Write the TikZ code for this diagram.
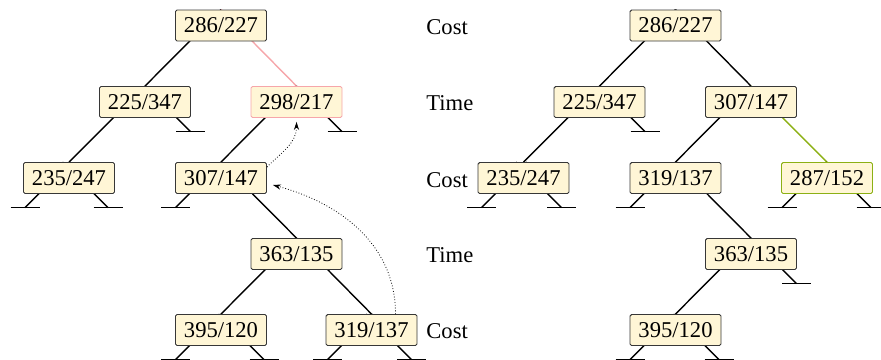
\documentclass[tikz,border=0pt]{standalone}
\usepackage{fontspec}
\setmainfont{Liberation Serif}
\usetikzlibrary{backgrounds,arrows.meta}
\definecolor{boxfill}{RGB}{255,246,214}
\definecolor{boxline}{RGB}{55,55,55}
\definecolor{pinkc}{RGB}{246,166,170}
\definecolor{greenc}{RGB}{140,176,20}
\tikzset{
  keybox/.style={draw=boxline, fill=boxfill, rounded corners=0.8pt, line width=0.45pt,
    minimum width=45.5pt, minimum height=15.5pt, inner sep=0pt,
    font=\fontsize{11.3}{13}\selectfont},
  lvl/.style={anchor=west, inner sep=0pt, font=\fontsize{11.3}{13}\selectfont},
  tedge/.style={line width=0.7pt, black},
  leafbar/.style={line width=0.5pt, black},
  hint/.style={densely dotted, line width=0.4pt, -{Stealth[length=4pt,width=2.6pt]}}
}
% #1 node, #2 horizontal offset of the leaf, #3 side (-1 or 1)
\newcommand\myleaf[3]{%
  \draw[tedge] (#1.north) ++({#2-#3*45.5},0) -- ++({#3*45.5},45.5) coordinate (#1-leaf#3);
  \draw[leafbar] (#1-leaf#3) ++(-14.5,0) -- ++(29,0);
}
\begin{document}
\begin{tikzpicture}[x=0.5pt,y=-0.5pt]
\useasboundingbox (0,0) rectangle (881,359);
% left tree
\node[keybox] (La) at (221,25.5) {286/227};
\node[keybox] (Lb) at (145,102) {225/347};
\node[keybox, draw=pinkc] (Lc) at (296.5,102) {298/217};
\node[keybox] (Ld) at (69,178) {235/247};
\node[keybox] (Le) at (221,178) {307/147};
\node[keybox] (Lf) at (296.5,254) {363/135};
\node[keybox] (Lg) at (221,330) {395/120};
\node[keybox] (Lh) at (371.5,330) {319/137};
% right tree
\node[keybox] (Ra) at (675.5,25.5) {286/227};
\node[keybox] (Rb) at (599.5,102) {225/347};
\node[keybox] (Rc) at (751,102) {307/147};
\node[keybox] (Rd) at (523.5,178) {235/247};
\node[keybox] (Re) at (675.5,178) {319/137};
\node[keybox, draw=greenc] (Rf) at (827,178) {287/152};
\node[keybox] (Rg) at (751,254) {363/135};
\node[keybox] (Rh) at (675.5,330) {395/120};
% level labels
\node[lvl] (t1) at (426,27) {Cost};
\node[lvl] (t2) at (426,103) {Time};
\node[lvl] (t3) at (426,180) {Cost};
\node[lvl] (t4) at (426,255) {Time};
\node[lvl] (t5) at (426,331) {Cost};
\begin{pgfonlayer}{background}
  % left tree edges
  \draw[tedge] (La.north) -- (Lb.north);
  \draw[tedge, pinkc] (La.north) -- (Lc.north);
  \draw[tedge] (Lb.north) -- (Ld.north);
  \myleaf{Lb}{45.5}{1}
  \myleaf{Ld}{-44}{-1}
  \myleaf{Ld}{39}{1}
  \draw[tedge] (Lc.north) -- (Le.north);
  \myleaf{Lc}{45.5}{1}
  \myleaf{Le}{-45.5}{-1}
  \draw[tedge] (Le.north) -- (Lf.north);
  \draw[tedge] (Lf.north) -- (Lg.north);
  \draw[tedge] (Lf.north) -- (Lh.north);
  \myleaf{Lg}{-45.5}{-1}
  \myleaf{Lg}{43}{1}
  \myleaf{Lh}{-44}{-1}
  \myleaf{Lh}{40}{1}
  % right tree edges
  \draw[tedge] (Ra.north) -- (Rb.north);
  \draw[tedge] (Ra.north) -- (Rc.north);
  \draw[tedge] (Rb.north) -- (Rd.north);
  \myleaf{Rb}{45.5}{1}
  \myleaf{Rd}{-42}{-1}
  \myleaf{Rd}{38}{1}
  \draw[tedge] (Rc.north) -- (Re.north);
  \draw[tedge, greenc] (Rc.north) -- (Rf.north);
  \myleaf{Re}{-45.5}{-1}
  \draw[tedge] (Re.north) -- (Rg.north);
  \myleaf{Rf}{-45}{-1}
  \myleaf{Rf}{44}{1}
  \draw[tedge] (Rg.north) -- (Rh.north);
  \myleaf{Rg}{45.5}{1}
  \myleaf{Rh}{-45.5}{-1}
  \myleaf{Rh}{43.5}{1}
\end{pgfonlayer}
% rotation hints
\draw[hint] ([yshift=-2.5pt]Le.north east) to[out=45,in=-90] ([yshift=-2pt]Lc.south);
\draw[hint] ([xshift=12pt]Lh.north) to[out=90,in=-15] ([xshift=3pt,yshift=-3.5pt]Le.east);
\end{tikzpicture}
\end{document}
